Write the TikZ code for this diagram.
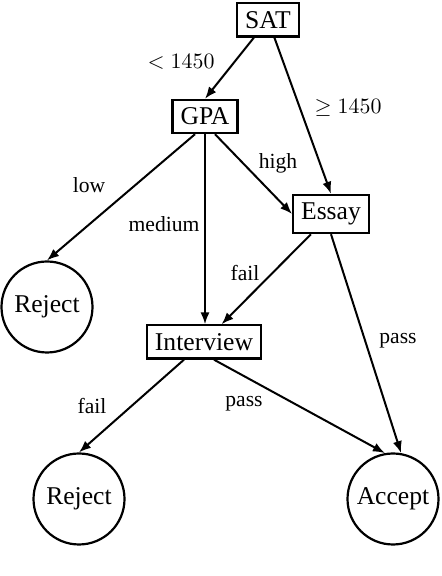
\documentclass[tikz,border=0pt]{standalone}
\usepackage{fontspec}
\setmainfont{Liberation Serif}
\newfontfamily\treefont{Liberation Serif}
\usetikzlibrary{arrows.meta,calc}

\begin{document}
\begin{tikzpicture}[x=0.5pt,y=0.5pt,
  test/.style={draw,line width=1.1pt,inner sep=4pt,font=\treefont\fontsize{12.8}{15}\selectfont},
  leaf/.style={draw,circle,line width=1.1pt,minimum size=45.5pt,inner sep=1pt,font=\treefont\fontsize{12.8}{15}\selectfont},
  edge/.style={-{Latex[length=6pt,width=4.6pt]},line width=1pt},
  lbl/.style={font=\treefont\fontsize{10.8}{13}\selectfont}
]
\useasboundingbox (0,0) rectangle (442,576);

\node[test] (SAT) at (268,556) {SAT};
\node[test] (GPA) at (205,459.5) {GPA};
\node[test] (Essay) at (331,362) {Essay};
\node[test] (Interview) at (204,234) {Interview};
\node[leaf] (RejA) at (47,269) {Reject};
\node[leaf] (RejB) at (79,77) {Reject};
\node[leaf] (Accept) at (393,77) {Accept};

\draw[edge] (SAT) -- (GPA.north);
\draw[edge] (SAT) -- (Essay.north);
\draw[edge] ([xshift=-5pt]GPA.south) -- (RejA.north);
\draw[edge] (GPA.south) -- (GPA.south |- Interview.north);
\draw[edge] ([xshift=5pt]GPA.south) -- (Essay.west);
\draw[edge] (Essay) -- (Interview);
\draw[edge] (Essay.south) -- (Accept.80);
\draw[edge] (Interview) -- (RejB.north);
\draw[edge] ([xshift=5pt]Interview.south) -- (Accept.100);

% branch labels
\node[lbl] (lLess) at (181,514) {$<1450$};
\node[lbl] (lGeq) at (348,468) {$\geq 1450$};
\node[lbl] (lLow) at (89,391) {low};
\node[lbl] (lMed) at (164,352) {medium};
\node[lbl] (lHigh) at (278,413) {high};
\node[lbl] (lFailE) at (245,303) {fail};
\node[lbl] (lPassE) at (398,235) {pass};
\node[lbl] (lFailI) at (92,170) {fail};
\node[lbl] (lPassI) at (244,172) {pass};
\end{tikzpicture}
\end{document}
